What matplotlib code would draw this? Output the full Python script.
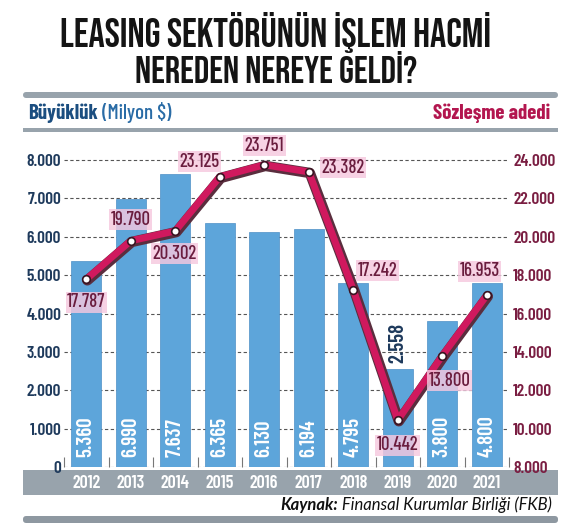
import matplotlib
matplotlib.use('Agg')
import numpy as np
import matplotlib.pyplot as plt
import matplotlib.patheffects as pe
from matplotlib.patches import Rectangle, FancyBboxPatch

# ---------------- data ----------------
years = ['2012', '2013', '2014', '2015', '2016', '2017', '2018', '2019', '2020', '2021']
volume = [5360, 6990, 7637, 6365, 6130, 6194, 4795, 2558, 3800, 4800]
volume_labels = ['5.360', '6.990', '7.637', '6.365', '6.130', '6.194', '4.795', '2.558', '3.800', '4.800']
contracts = [17787, 19790, 20302, 23125, 23751, 23382, 17242, 10442, 13800, 16953]
contract_labels = ['17.787', '19.790', '20.302', '23.125', '23.751', '23.382', '17.242', '10.442', '13.800', '16.953']
left_ticks = [0, 1000, 2000, 3000, 4000, 5000, 6000, 7000, 8000]
left_tick_labels = ['0', '1.000', '2.000', '3.000', '4.000', '5.000', '6.000', '7.000', '8.000']
right_ticks = [8000, 10000, 12000, 14000, 16000, 18000, 20000, 22000, 24000]
right_tick_labels = ['8.000', '10.000', '12.000', '14.000', '16.000', '18.000', '20.000', '22.000', '24.000']
title_lines = ['LEASING SEKTÖRÜNÜN İŞLEM HACMİ', 'NEREDEN NEREYE GELDİ?']
left_title_bold = 'Büyüklük'
left_title_rest = ' (Milyon $)'
right_title = 'Sözleşme adedi'
source_bold = 'Kaynak:'
source_rest = ' Finansal Kurumlar Birliği (FKB)'

# ---------------- style ----------------
W, H = 565, 530
COND = ['Barlow Condensed', 'Roboto Condensed', 'DejaVu Sans']
TITLE_FONT = ['Bebas Neue', 'Oswald', 'Barlow Condensed', 'DejaVu Sans']
SRC_FONT = ['Lato', 'DejaVu Sans']
BAR_C = '#5DA5DA'
LINE_C = '#D0195E'
NAVY = '#1E3A5C'
MAROON = '#7A1E42'
GRAY = '#98A3AC'
# label offsets (pixels) for the contract labels
label_offsets = [(0, -23), (0, 21), (-1, -23), (-20, 15), (0, 19),
                 (34, 4), (24, 19), (0, -25), (7, -25), (-7, 24)]

def fx(px):
    return px / W

def fy(py):
    return 1 - py / H

fig = plt.figure(figsize=(W / 100, H / 100), dpi=100)
fig.patch.set_facecolor('white')

# header / footer decorations (drawn beneath the axes)
deco = [
    FancyBboxPatch((fx(23), fy(98)), fx(558) - fx(23), 6 / H,
                   boxstyle='round,pad=0,rounding_size=0.006', fc=GRAY, ec='none'),
    Rectangle((fx(23), fy(132)), fx(558) - fx(23), 4 / H, fc=GRAY, ec='none'),
    Rectangle((fx(23), fy(495)), fx(558) - fx(23), 25 / H, fc=GRAY, ec='none'),
    FancyBboxPatch((fx(23), fy(523)), fx(558) - fx(23), 7 / H,
                   boxstyle='round,pad=0,rounding_size=0.006', fc='#8E98A1', ec='none'),
]
for p in deco:
    p.set_transform(fig.transFigure)
    p.set_zorder(-5)
    fig.patches.append(p)

# ---------------- axes ----------------
ax = fig.add_axes([fx(64), fy(467), (509 - 64) / W, 330 / H])
ax.patch.set_alpha(0)
x = np.arange(len(years))
ax.set_xlim(-0.5, len(years) - 0.5)
ax.set_ylim(0, 8600)
for s in ax.spines.values():
    s.set_visible(False)
ax.set_axisbelow(True)
ax.yaxis.grid(True, color='#555555', lw=0.8, ls=(0, (3, 2.2)))
ax.bar(x, volume, width=0.68, color=BAR_C, edgecolor='#4E8FC6', linewidth=0.5, zorder=2)

ax.set_yticks(left_ticks, left_tick_labels)
ax.tick_params(axis='y', length=0, pad=2, labelsize=12.5, labelcolor=NAVY)
for t in ax.get_yticklabels():
    t.set_fontfamily(COND)
    t.set_fontweight(600)
ax.set_xticks(x, years)
ax.set_xticks(np.arange(-0.5, len(years), 1), minor=True)
ax.tick_params(axis='x', which='major', length=0, pad=6, labelsize=13, labelcolor='white')
ax.tick_params(axis='x', which='minor', direction='in', length=7, width=0.8, color='#777777')
for t in ax.get_xticklabels():
    t.set_fontfamily(COND)
    t.set_fontweight(600)

for i, (v, lab) in enumerate(zip(volume, volume_labels)):
    if v >= 3000:
        ax.annotate(lab, (i, 0), xytext=(0, 10), textcoords='offset pixels', rotation=90,
                    ha='center', va='bottom', color='white', fontsize=15,
                    fontfamily=COND, fontweight=600, zorder=4)
    else:
        ax.annotate(lab, (i, v), xytext=(0, 6), textcoords='offset pixels', rotation=90,
                    ha='center', va='bottom', color=NAVY, fontsize=15,
                    fontfamily=COND, fontweight=600, zorder=4)

ax2 = ax.twinx()
ax2.set_ylim(8000, 8000 + 2 * 8600)
for s in ax2.spines.values():
    s.set_visible(False)
ax2.set_yticks(right_ticks, right_tick_labels)
ax2.tick_params(axis='y', length=0, pad=3, labelsize=12.5, labelcolor=MAROON)
for t in ax2.get_yticklabels():
    t.set_fontfamily(COND)
    t.set_fontweight(600)

ax2.plot(x, contracts, color=LINE_C, lw=5, zorder=5, solid_joinstyle='round',
         solid_capstyle='round',
         path_effects=[pe.Stroke(linewidth=7.5, foreground='#5A2E3E', offset=(0.8, -0.8)),
                       pe.Normal()])
ax2.plot(x, contracts, ls='none', marker='o', ms=5.5, mfc='white', mec='#3A1422', mew=1.2, zorder=6)
for i, (v, lab) in enumerate(zip(contracts, contract_labels)):
    ax2.annotate(lab, (i, v), xytext=label_offsets[i], textcoords='offset pixels',
                 ha='center', va='center', color='#6A1D3E', fontsize=13.5,
                 fontfamily=COND, fontweight=500, zorder=7,
                 bbox=dict(boxstyle='square,pad=0.08', fc='#F6C8DF', ec='none', alpha=0.82))

# ---------------- texts ----------------
fig.canvas.draw()
r = fig.canvas.get_renderer()

def fit(txt, target_w):
    w = txt.get_window_extent(r).width
    txt.set_fontsize(txt.get_fontsize() * target_w / w)

t1 = fig.text(fx(276), fy(47), title_lines[0], ha='center', va='baseline',
              fontsize=28, fontfamily=TITLE_FONT, color='#141414')
t2 = fig.text(fx(276), fy(83), title_lines[1], ha='center', va='baseline',
              fontsize=28, fontfamily=TITLE_FONT, color='#141414')
fit(t1, 433)
fit(t2, 283)

s1 = fig.text(fx(28), fy(119), left_title_bold, ha='left', va='baseline', fontsize=15,
              fontfamily=COND, fontweight=700, color='#1B4E80')
bb = s1.get_window_extent(r)
fig.text(bb.x1 / W, fy(119), left_title_rest, ha='left', va='baseline', fontsize=15,
         fontfamily=COND, fontweight=500, color='#2A6CA6')
fig.text(fx(550), fy(119), right_title, ha='right', va='baseline', fontsize=15,
         fontfamily=COND, fontweight=700, color='#B3164F')

src2 = fig.text(fx(552), fy(510), source_rest, ha='right', va='baseline', fontsize=12,
                fontfamily=SRC_FONT, style='italic', color='#111111')
bb = src2.get_window_extent(r)
fig.text(bb.x0 / W, fy(510), source_bold, ha='right', va='baseline', fontsize=12,
         fontfamily=SRC_FONT, style='italic', fontweight='bold', color='#111111')

fig.savefig('out.png', dpi=100)
